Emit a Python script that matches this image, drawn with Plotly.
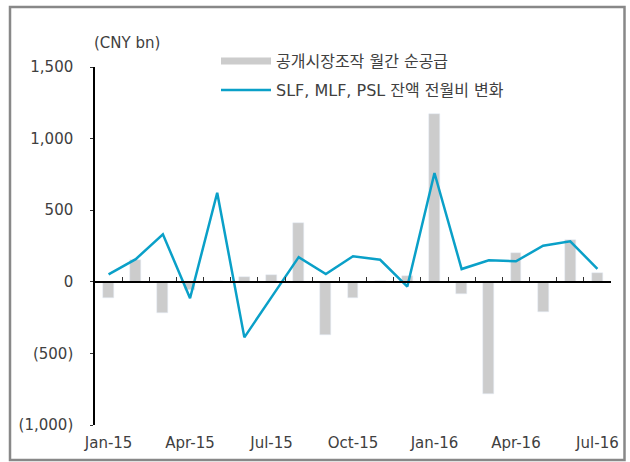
import plotly.graph_objects as go

months = ["Jan-15", "Feb-15", "Mar-15", "Apr-15", "May-15", "Jun-15", "Jul-15",
          "Aug-15", "Sep-15", "Oct-15", "Nov-15", "Dec-15", "Jan-16", "Feb-16",
          "Mar-16", "Apr-16", "May-16", "Jun-16", "Jul-16"]
omo_net_supply = [-115, 150, -215, -55, 5, 35, 50, 410, -372, -112, 5, 38,
                  1175, -86, -785, 200, -213, 292, 60]
slf_mlf_psl_change = [52, 158, 332, -115, 622, -388, -107, 172, 54, 178, 154, -33,
                      760, 89, 150, 143, 252, 283, 90]
tick_labels = ["Jan-15", "Apr-15", "Jul-15", "Oct-15", "Jan-16", "Apr-16", "Jul-16"]
y_ticks = [-1000, -500, 0, 500, 1000, 1500]
y_tick_text = ["(1,000)", "(500)", "0", "500", "1,000", "1,500"]

bar_name = "공개시장조작 월간 순공급"
line_name = "SLF, MLF, PSL 잔액 전월비 변화"

FONT = "DejaVu Sans, Noto Sans CJK KR, sans-serif"
TXT = "#404040"
BAR_C = "#cccccc"
LINE_C = "#0aa0c8"

W, H = 630, 462
L, R, T, B = 95, 19, 67, 37
PW, PH = W - L - R, H - T - B

def px_x(px):
    return (px - L) / PW

def px_y(py):
    return (H - B - py) / PH

idx = list(range(len(months)))
tick_idx = [months.index(m) for m in tick_labels]
n = len(months)

fig = go.Figure()
fig.add_trace(go.Bar(x=idx, y=omo_net_supply, marker_color=BAR_C, width=0.4,
                     name=bar_name, showlegend=False))
fig.add_trace(go.Scatter(x=idx, y=slf_mlf_psl_change, mode="lines",
                         line=dict(color=LINE_C, width=2.5), name=line_name,
                         showlegend=True, legend="legend2"))
# legend entry for the bar series (wide grey swatch)
fig.add_trace(go.Scatter(x=[None], y=[None], mode="lines",
                         line=dict(color=BAR_C, width=7), name=bar_name,
                         showlegend=True, legend="legend"))
# axis along zero with category-boundary ticks
fig.add_trace(go.Scatter(x=[None], y=[None], xaxis="x2", showlegend=False))

fig.update_layout(
    width=W, height=H,
    margin=dict(l=L, r=R, t=T, b=B, autoexpand=False),
    paper_bgcolor="white", plot_bgcolor="white",
    font=dict(family=FONT, size=15, color=TXT),
    bargap=0,
    xaxis=dict(range=[-0.5, n - 0.5], tickmode="array", tickvals=tick_idx,
               ticktext=tick_labels, showline=False, showgrid=False,
               zeroline=False, ticks="", ticklabelstandoff=7, tickangle=0,
               automargin=False),
    xaxis2=dict(range=[-0.5, n - 0.5], overlaying="x", anchor="free",
                position=px_y(282), side="bottom", tickmode="array",
                tickvals=[i - 0.5 for i in range(n + 1)], showticklabels=False,
                ticks="inside", ticklen=4, tickwidth=1, tickcolor="#333333",
                showline=True, linecolor="black", linewidth=1.5,
                showgrid=False, zeroline=False, automargin=False),
    yaxis=dict(range=[-1000, 1500], tickmode="array", tickvals=y_ticks,
               ticktext=y_tick_text, showline=True, linecolor="black",
               linewidth=1.5, ticks="outside", ticklen=3, tickcolor="#333333",
               showgrid=False, zeroline=False, ticklabelstandoff=14,
               automargin=False),
    legend=dict(xref="container", yref="container", x=216 / W, y=1 - 44 / H,
                xanchor="left", yanchor="top", itemwidth=50,
                font=dict(family=FONT, size=16, color=TXT),
                bgcolor="rgba(0,0,0,0)"),
    legend2=dict(xref="container", yref="container", x=216 / W, y=1 - 73 / H,
                 xanchor="left", yanchor="top", itemwidth=50,
                 font=dict(family=FONT, size=16, color=TXT),
                 bgcolor="rgba(0,0,0,0)"),
    annotations=[dict(text="(CNY bn)", xref="paper", yref="paper",
                      x=px_x(92), y=px_y(43), xanchor="left", yanchor="middle",
                      showarrow=False, font=dict(family=FONT, size=15, color=TXT))],
    shapes=[dict(type="rect", xref="paper", yref="paper",
                 x0=px_x(10), x1=px_x(624.5), y0=px_y(460), y1=px_y(7),
                 line=dict(color="#888888", width=2.5),
                 fillcolor="rgba(0,0,0,0)")],
)

fig.write_html("out.html", config={"displayModeBar": False},
               post_script="document.body.style.margin='0';")
